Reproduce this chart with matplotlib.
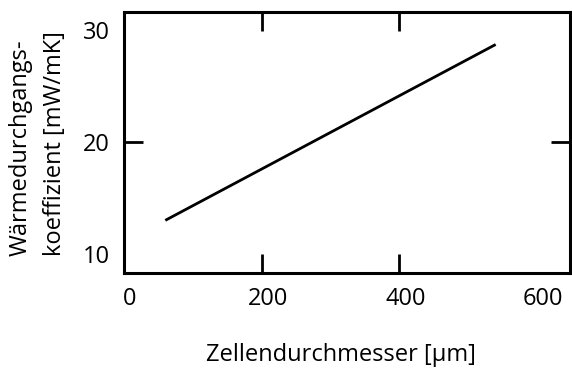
import matplotlib
matplotlib.use("Agg")
import matplotlib.pyplot as plt
from matplotlib.transforms import ScaledTranslation

# Heat transfer coefficient vs. cell diameter
diameter_um = [60, 540]
coefficient = [13.0, 28.7]

x_ticks = [0, 200, 400, 600]
y_ticks = [10, 20, 30]

plt.rcParams['font.family'] = ['Open Sans', 'DejaVu Sans']

W, H = 572, 372
fig = plt.figure(figsize=(W / 100, H / 100), dpi=100)
ax = fig.add_axes([124 / W, 1 - 273 / H, (570 - 124) / W, (273 - 12) / H])

ax.plot(diameter_um, coefficient, color='black', lw=2.0, solid_capstyle='butt')

ax.set_xlim(0, 648)
ax.set_ylim(8.3, 31.6)
ax.set_xticks(x_ticks)
ax.set_yticks(y_ticks)
ax.set_xticklabels([str(v) for v in x_ticks])
ax.set_yticklabels([str(v) for v in y_ticks])

ax.tick_params(direction='in', length=14, width=2.0, labelsize=17,
               top=True, right=True, pad=10, colors='black')

# Only inner ticks carry marks
for t in ax.xaxis.get_major_ticks():
    if t.get_loc() in (0, 600):
        t.tick1line.set_visible(False)
        t.tick2line.set_visible(False)
for t in ax.yaxis.get_major_ticks():
    if t.get_loc() in (10, 30):
        t.tick1line.set_visible(False)
        t.tick2line.set_visible(False)

offset = ScaledTranslation(6 / 100, 0, fig.dpi_scale_trans)
for lbl in ax.get_xticklabels():
    lbl.set_transform(lbl.get_transform() + offset)

for s in ax.spines.values():
    s.set_linewidth(2.2)

fig.text(341 / W, 1 - 355 / H, 'Zellendurchmesser [µm]', ha='center', va='center',
         fontsize=17)
fig.text(21 / W, 1 - 148 / H, 'Wärmedurchgangs-', ha='center', va='center',
         rotation=90, fontsize=17)
fig.text(55 / W, 1 - 144 / H, 'koeffizient [mW/mK]', ha='center', va='center',
         rotation=90, fontsize=17)

fig.savefig('out.png', dpi=100)
